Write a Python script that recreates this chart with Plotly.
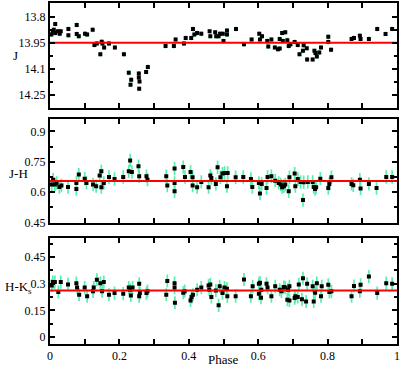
import plotly.graph_objects as go

# ---------------- data ----------------
j_phase = [0.004, 0.008, 0.011, 0.015, 0.015, 0.023, 0.028, 0.031, 0.053, 0.053, 0.077, 0.077, 0.083,
           0.101, 0.107, 0.123, 0.128, 0.135, 0.145, 0.149, 0.151, 0.156, 0.170, 0.187, 0.213, 0.227,
           0.234, 0.232, 0.256, 0.256, 0.258, 0.257, 0.277, 0.282, 0.333, 0.357, 0.362, 0.386, 0.391,
           0.407, 0.412, 0.416, 0.424, 0.436, 0.460, 0.462, 0.476, 0.479, 0.486, 0.490, 0.498, 0.500,
           0.510, 0.510, 0.536, 0.559, 0.581, 0.603, 0.605, 0.611, 0.626, 0.629, 0.638, 0.648, 0.657,
           0.662, 0.662, 0.669, 0.671, 0.678, 0.684, 0.688, 0.693, 0.705, 0.714, 0.719, 0.729, 0.731,
           0.740, 0.741, 0.757, 0.762, 0.765, 0.769, 0.776, 0.781, 0.802, 0.802, 0.810, 0.869, 0.876,
           0.893, 0.895, 0.919, 0.943, 0.967, 0.986]
j_mag = [13.903, 13.884, 13.875, 13.842, 13.894, 13.884, 13.898, 13.884, 13.870, 13.907, 13.847, 13.899, 13.912,
         13.898, 13.903, 13.875, 13.963, 13.954, 14.016, 13.944, 13.954, 13.978, 13.954, 13.978, 14.016, 14.124,
         14.165, 14.193, 14.128, 14.152, 14.175, 14.216, 14.119, 14.090, 13.969, 13.969, 13.931, 13.954, 13.922,
         13.922, 13.871, 13.903, 13.894, 13.898, 13.884, 13.912, 13.890, 13.912, 13.912, 13.898, 13.898, 13.940,
         13.879, 13.903, 13.870, 13.959, 13.931, 13.898, 13.931, 13.912, 13.940, 13.972, 13.931, 13.978, 13.988,
         13.984, 13.928, 13.894, 13.940, 13.890, 13.935, 13.969, 13.959, 13.946, 13.963, 14.016, 13.997, 13.965,
         13.982, 14.047, 14.047, 13.997, 14.010, 14.029, 14.006, 13.978, 13.916, 13.946, 13.991, 13.928, 13.922,
         13.909, 13.928, 13.928, 13.870, 13.899, 13.870]

jh_phase = [0.005, 0.009, 0.014, 0.019, 0.027, 0.033, 0.052, 0.076, 0.076, 0.083, 0.100, 0.105, 0.124,
            0.133, 0.143, 0.148, 0.148, 0.155, 0.170, 0.186, 0.211, 0.227, 0.231, 0.236, 0.255, 0.257,
            0.278, 0.281, 0.335, 0.338, 0.359, 0.359, 0.359, 0.384, 0.389, 0.405, 0.411, 0.411, 0.424,
            0.436, 0.457, 0.462, 0.465, 0.478, 0.483, 0.491, 0.497, 0.503, 0.510, 0.512, 0.535, 0.557,
            0.579, 0.583, 0.602, 0.605, 0.610, 0.624, 0.627, 0.638, 0.649, 0.659, 0.665, 0.669, 0.674,
            0.678, 0.688, 0.690, 0.705, 0.707, 0.714, 0.722, 0.729, 0.731, 0.743, 0.757, 0.760, 0.764,
            0.767, 0.779, 0.802, 0.805, 0.811, 0.869, 0.874, 0.893, 0.895, 0.919, 0.941, 0.969, 0.986]
jh_val = [0.638, 0.662, 0.638, 0.646, 0.626, 0.633, 0.626, 0.646, 0.616, 0.687, 0.667, 0.646, 0.638,
          0.630, 0.682, 0.703, 0.625, 0.646, 0.675, 0.665, 0.675, 0.703, 0.757, 0.700, 0.728, 0.679,
          0.679, 0.662, 0.679, 0.633, 0.717, 0.646, 0.605, 0.724, 0.675, 0.700, 0.674, 0.633, 0.625,
          0.651, 0.625, 0.682, 0.670, 0.641, 0.723, 0.674, 0.692, 0.695, 0.630, 0.695, 0.674, 0.675,
          0.665, 0.626, 0.646, 0.594, 0.641, 0.621, 0.675, 0.679, 0.657, 0.646, 0.638, 0.625, 0.630,
          0.638, 0.605, 0.674, 0.692, 0.630, 0.665, 0.651, 0.561, 0.649, 0.651, 0.651, 0.626, 0.616,
          0.625, 0.667, 0.621, 0.641, 0.674, 0.641, 0.634, 0.662, 0.618, 0.641, 0.621, 0.675, 0.675]

hk_phase = [0.005, 0.008, 0.014, 0.024, 0.031, 0.052, 0.076, 0.078, 0.084, 0.100, 0.107, 0.124, 0.126,
            0.135, 0.145, 0.150, 0.155, 0.170, 0.186, 0.211, 0.227, 0.231, 0.233, 0.238, 0.257, 0.257,
            0.259, 0.278, 0.281, 0.335, 0.338, 0.359, 0.359, 0.360, 0.384, 0.388, 0.405, 0.408, 0.412,
            0.424, 0.436, 0.457, 0.459, 0.462, 0.465, 0.478, 0.486, 0.489, 0.497, 0.503, 0.510, 0.511,
            0.535, 0.559, 0.579, 0.584, 0.602, 0.605, 0.602, 0.608, 0.609, 0.624, 0.627, 0.638, 0.649,
            0.662, 0.667, 0.674, 0.678, 0.684, 0.686, 0.690, 0.690, 0.705, 0.707, 0.714, 0.717, 0.729,
            0.726, 0.738, 0.741, 0.757, 0.760, 0.764, 0.769, 0.781, 0.783, 0.802, 0.805, 0.811, 0.869,
            0.876, 0.893, 0.895, 0.919, 0.943, 0.969, 0.986]
hk_val = [0.290, 0.309, 0.309, 0.253, 0.309, 0.296, 0.303, 0.278, 0.238, 0.278, 0.229, 0.257, 0.278,
          0.322, 0.303, 0.258, 0.309, 0.238, 0.247, 0.244, 0.278, 0.266, 0.234, 0.278, 0.300, 0.229,
          0.247, 0.247, 0.258, 0.238, 0.315, 0.303, 0.278, 0.193, 0.249, 0.258, 0.206, 0.225, 0.238,
          0.266, 0.278, 0.290, 0.266, 0.296, 0.225, 0.262, 0.178, 0.285, 0.247, 0.278, 0.272, 0.229,
          0.230, 0.324, 0.230, 0.285, 0.300, 0.306, 0.244, 0.221, 0.266, 0.300, 0.278, 0.230, 0.285,
          0.266, 0.257, 0.281, 0.278, 0.210, 0.266, 0.206, 0.285, 0.219, 0.230, 0.225, 0.296, 0.331,
          0.212, 0.200, 0.300, 0.285, 0.200, 0.249, 0.303, 0.230, 0.285, 0.294, 0.253, 0.257, 0.229,
          0.287, 0.257, 0.294, 0.341, 0.247, 0.303, 0.300]

j_err = 0.014
jh_err = 0.033
hk_err = 0.037

j_mean = 13.95
jh_mean = 0.655
hk_mean = 0.262

x_ticks = [0, 0.2, 0.4, 0.6, 0.8, 1]
x_ticklabels = ["0", "0.2", "0.4", "0.6", "0.8", "1"]
j_ticks = [13.8, 13.95, 14.1, 14.25]
jh_ticks = [0.45, 0.6, 0.75, 0.9]
hk_ticks = [0, 0.15, 0.3, 0.45]

# ---------------- figure ----------------
FONT = "Liberation Serif"
ERR_COLOR = "#55f0aa"

fig = go.Figure()

panels = [
    (j_phase, j_mag, j_err, j_mean, "x", "y"),
    (jh_phase, jh_val, jh_err, jh_mean, "x2", "y2"),
    (hk_phase, hk_val, hk_err, hk_mean, "x3", "y3"),
]
for ph, val, err, mean, xa, ya in panels:
    fig.add_trace(go.Scatter(
        x=ph, y=val, mode="markers", xaxis=xa, yaxis=ya,
        marker=dict(symbol="square", size=4, color="black"),
        error_y=dict(type="constant", value=err, color=ERR_COLOR, thickness=1.7, width=0),
        showlegend=False, hoverinfo="skip"))
    fig.add_trace(go.Scatter(
        x=[0, 1], y=[mean, mean], mode="lines", xaxis=xa, yaxis=ya,
        line=dict(color="#ff0000", width=2), showlegend=False, hoverinfo="skip"))

common_axis = dict(showline=True, linecolor="black", linewidth=2, mirror="ticks",
                   ticks="inside", ticklen=5, tickwidth=1.5, tickcolor="black",
                   showgrid=False, zeroline=False,
                   tickfont=dict(family=FONT, size=12, color="black"))

def xaxis(domain_anchor, labels):
    d = dict(common_axis)
    d.update(range=[0, 1], tickvals=x_ticks, ticktext=x_ticklabels,
             showticklabels=labels, anchor=domain_anchor,
             minor=dict(tickvals=[0.1, 0.3, 0.5, 0.7, 0.9], ticklen=5, tickwidth=1.5,
                        tickcolor="black", ticks="inside", showgrid=False))
    return d

def yaxis(domain, rng, ticks, anchor):
    d = dict(common_axis)
    d.update(domain=domain, range=rng, tickvals=ticks, anchor=anchor,
             minor=dict(dtick=0.075, tick0=ticks[0], ticklen=3, tickwidth=1.5,
                        tickcolor="black", ticks="inside", showgrid=False))
    return d

fig.update_layout(
    width=400, height=368,
    margin=dict(l=50, r=2, t=1, b=24),
    paper_bgcolor="white", plot_bgcolor="white",
    font=dict(family=FONT, color="black"),
    xaxis=xaxis("y", False),
    xaxis2=xaxis("y2", False),
    xaxis3=xaxis("y3", True),
    yaxis=yaxis([0.691, 1.0], [14.33, 13.72], j_ticks, "x"),
    yaxis2=yaxis([0.356, 0.659], [0.45, 0.96], jh_ticks, "x2"),
    yaxis3=yaxis([0.0, 0.312], [-0.04, 0.56], hk_ticks, "x3"),
)

ann = dict(xref="paper", yref="paper", showarrow=False,
           font=dict(family=FONT, size=13, color="black"))
fig.add_annotation(text="J", x=-0.10, y=0.845, xanchor="center", yanchor="middle", **ann)
fig.add_annotation(text="J-H", x=-0.09, y=0.50, xanchor="center", yanchor="middle", **ann)
fig.add_annotation(text="H-K<sub>s</sub>", x=-0.09, y=0.165, xanchor="center", yanchor="middle", **ann)
fig.add_annotation(text="Phase", x=0.5, y=-0.046, xanchor="center", yanchor="middle", **ann)

fig.write_html("out.html", config={"displayModeBar": False},
               post_script="document.body.style.margin='0';document.body.style.overflow='hidden';")
